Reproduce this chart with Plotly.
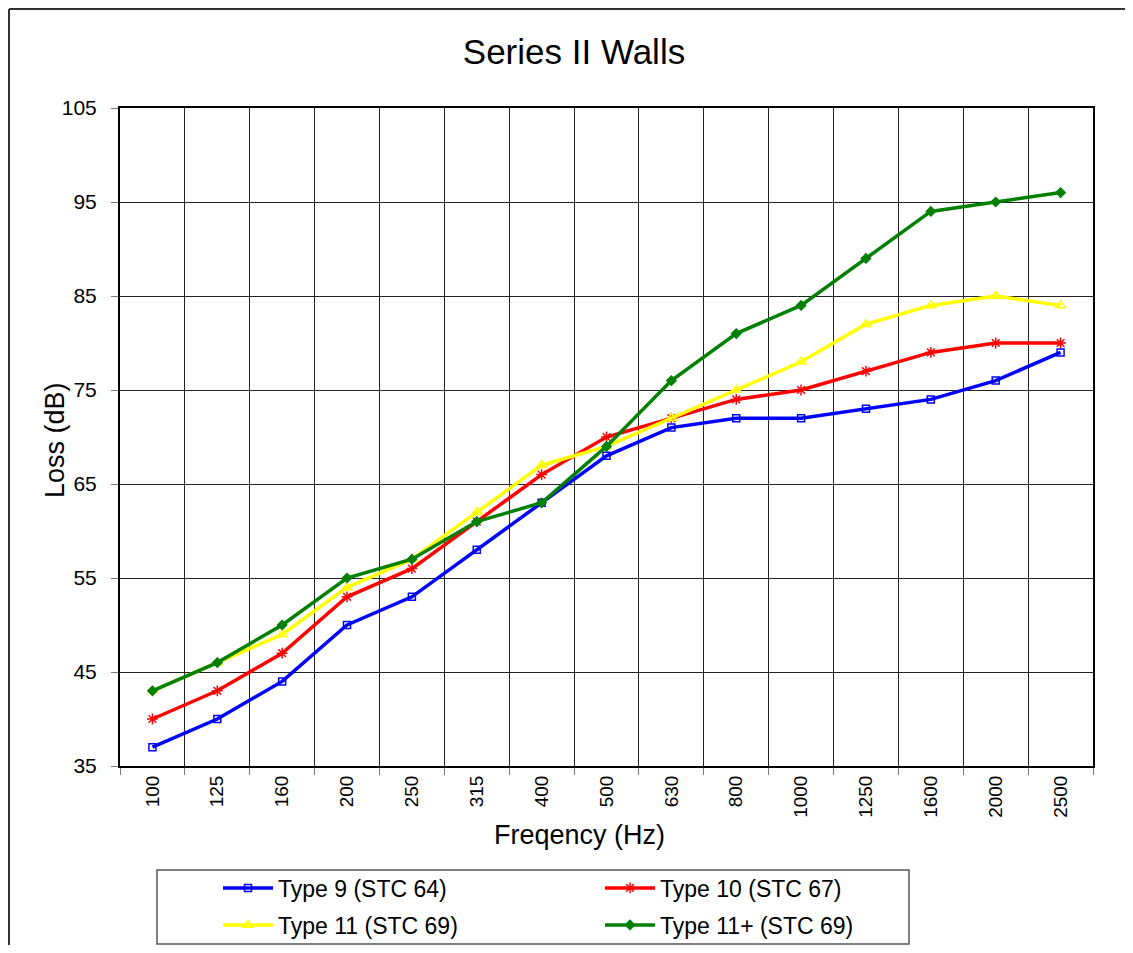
import plotly.graph_objects as go

freqs = ["100", "125", "160", "200", "250", "315", "400", "500", "630", "800",
         "1000", "1250", "1600", "2000", "2500"]
type9 = [37, 40, 44, 50, 53, 58, 63, 68, 71, 72, 72, 73, 74, 76, 79]
type10 = [40, 43, 47, 53, 56, 61, 66, 70, 72, 74, 75, 77, 79, 80, 80]
type11 = [43, 46, 49, 54, 57, 62, 67, 69, 72, 75, 78, 82, 84, 85, 84]
type11p = [43, 46, 50, 55, 57, 61, 63, 69, 76, 81, 84, 89, 94, 95, 96]

series = [
    ("Type 9 (STC 64)", type9, "#0000FF", "square-open", 7, "legend"),
    ("Type 10 (STC 67)", type10, "#FF0000", "asterisk-open", 9, "legend"),
    ("Type 11 (STC 69)", type11, "#FFFF00", "triangle-up-open", 9, "legend2"),
    ("Type 11+ (STC 69)", type11p, "#008000", "diamond", 7, "legend2"),
]

# page body has an 8px margin; coordinates below are absolute page pixels
OFF = 8
W, H = 1133 - OFF, 953 - 2 * OFF
L, T = 120 - OFF, 108 - OFF
R = W - (1093 - OFF)
B = H - (766 - OFF)
pw, ph = W - L - R, H - T - B

def px(x):
    return (x - OFF - L) / pw

def py(y):
    return (H - B - (y - OFF)) / ph

def cy(y):
    return 1 - (y - OFF) / H

fig = go.Figure()
for name, vals, col, sym, sz, lg in series:
    fig.add_trace(go.Scatter(
        x=freqs, y=vals, name=name, mode="lines+markers", legend=lg,
        line=dict(color=col, width=3.5),
        marker=dict(symbol=sym, size=sz, color=col,
                    line=dict(color=col, width=1.5)),
    ))

font = "Liberation Sans, Arial, sans-serif"
leg_common = dict(orientation="h", xanchor="left", yanchor="middle",
                  xref="paper", yref="container",
                  font=dict(size=23, family=font), itemwidth=50,
                  entrywidth=317, bgcolor="rgba(0,0,0,0)", borderwidth=0)
fig.update_layout(
    width=W, height=H,
    margin=dict(l=L, r=R, t=T, b=B, autoexpand=False),
    paper_bgcolor="white", plot_bgcolor="white",
    font=dict(family=font, color="black"),
    title=dict(text="Series II Walls", x=(574 - OFF) / W, xref="container",
               xanchor="center", y=cy(52), yref="container",
               yanchor="middle", font=dict(size=35, family=font)),
    showlegend=True,
    legend=dict(x=px(218), y=cy(888), **leg_common),
    legend2=dict(x=px(218), y=cy(925), **leg_common),
    xaxis=dict(type="category", range=[-0.5, len(freqs) - 0.5], tickson="boundaries",
               showgrid=True, gridcolor="#222", gridwidth=1, showline=True,
               linecolor="black", linewidth=2, mirror=True, ticks="outside",
               ticklen=7, tickcolor="#777", tickangle=-90,
               tickfont=dict(size=19, family=font)),
    yaxis=dict(range=[35, 105], tickvals=[35, 45, 55, 65, 75, 85, 95, 105],
               showgrid=True, gridcolor="#222", gridwidth=1, showline=True,
               linecolor="black", linewidth=2, mirror=True, ticks="outside",
               ticklen=7, tickcolor="#777", zeroline=False, ticklabelstandoff=10,
               tickfont=dict(size=21, family=font)),
    annotations=[
        dict(text="Freqency (Hz)", x=px(579), y=py(835), xref="paper", yref="paper",
             showarrow=False, font=dict(size=27, family=font),
             xanchor="center", yanchor="middle"),
        dict(text="Loss (dB)", x=px(55), y=py(440), xref="paper", yref="paper",
             showarrow=False, textangle=-90, font=dict(size=27, family=font),
             xanchor="center", yanchor="middle"),
    ],
    shapes=[
        dict(type="line", xref="paper", yref="paper", x0=px(9), x1=px(9),
             y0=py(9), y1=py(960), line=dict(color="#333", width=2)),
        dict(type="line", xref="paper", yref="paper", x0=px(9), x1=px(1140),
             y0=py(9), y1=py(9), line=dict(color="#333", width=2)),
        dict(type="rect", xref="paper", yref="paper", x0=px(157), x1=px(909),
             y0=py(870), y1=py(944), line=dict(color="#555", width=1.5),
             fillcolor="rgba(0,0,0,0)"),
    ],
)

fig.write_html("out.html")
